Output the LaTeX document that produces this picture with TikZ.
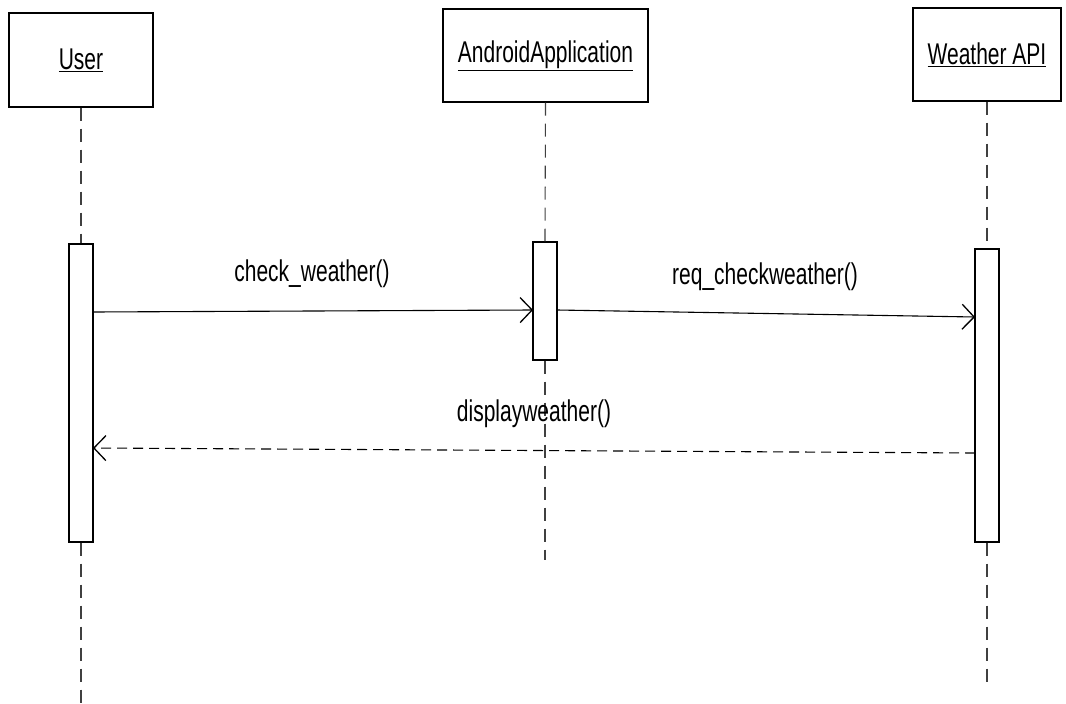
\documentclass[tikz,border=0pt]{standalone}
\usepackage{fontspec}
\setmainfont{Liberation Sans}[FakeStretch=0.70]
\usepackage{tikz}
\usetikzlibrary{arrows.meta,positioning}

\tikzset{
    objbox/.style={draw, line width=1.3pt, inner sep=0pt},
    actbox/.style={draw, fill=white, line width=1.3pt, minimum width=24pt, inner sep=0pt},
    lifeline/.style={draw=black!75, line width=1.1pt, dash pattern=on 13pt off 8pt},
    callmsg/.style={line width=1.1pt, -{Straight Barb[length=12pt,width=25pt,line width=1.3pt]}},
    retmsg/.style={callmsg, dash pattern=on 10pt off 6pt},
    msglabel/.style={inner sep=0pt}
}

\begin{document}
\begin{tikzpicture}[x=1pt,y=-1pt,font=\fontsize{30}{35}\selectfont]
        \useasboundingbox (0,0) rectangle (1066,704);
        \node[objbox, minimum width=144pt, minimum height=94pt] (user) at (81,60) {\underline{User}};
        \node[objbox, minimum width=205pt, minimum height=93pt] (app) at (545.5,55.5) {\underline{AndroidApplication}};
        \node[objbox, minimum width=148pt, minimum height=93pt] (api) at (987,54.5) {\underline{Weather API}};
        \node[actbox, minimum height=298pt] (actUser) at (81,393) {};
        \node[actbox, minimum height=118pt] (actApp) at (545,301) {};
        \node[actbox, minimum height=293pt] (actApi) at (987,395.5) {};
        \coordinate (userEnd) at (81,704);
        \coordinate (appEnd) at (545,560);
        \coordinate (apiEnd) at (987,682);
        \draw[lifeline] (user.south) -- (actUser.north);
        \draw[lifeline] (actUser.south) -- (userEnd);
        \draw[lifeline] (app.south) -- (actApp.north);
        \draw[lifeline] (actApp.south) -- (appEnd);
        \draw[lifeline] (api.south) -- (actApi.north);
        \draw[lifeline] (actApi.south) -- (apiEnd);
        \coordinate (m1s) at (93,312);
        \coordinate (m1e) at (533,310);
        \coordinate (m2s) at (557,310);
        \coordinate (m2e) at (975,317);
        \coordinate (m3s) at (975,453);
        \coordinate (m3e) at (93,448);
        \draw[callmsg] (m1s) -- (m1e);
        \draw[callmsg] (m2s) -- (m2e);
        \draw[retmsg] (m3s) -- (m3e);
        \node[msglabel] (lblCheck) at (312,274) {check\_weather()};
        \node[msglabel] (lblReq) at (765,277) {req\_checkweather()};
        \node[msglabel] (lblDisplay) at (534,414) {displayweather()};
    \end{tikzpicture}
\end{document}
